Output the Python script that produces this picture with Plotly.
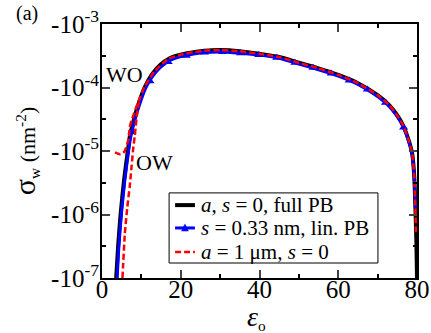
import numpy as np
import plotly.graph_objects as go

# full PB, s = 0 (black)
eps_full = [3.6, 4.1, 4.75, 5.6, 6.6, 7.07, 8.3, 9.6, 10.9, 12.6, 14.7, 17.2, 20.2, 23.6,
            26.1, 30, 35, 40, 45, 50, 55, 60, 65, 70, 73, 75, 76.5, 78, 78.8, 79.3, 79.6,
            79.85, 80]
sig_full = [-1.0e-7, -3.2e-7, -1.05e-6, -3.47e-6, -1.05e-5, -1.7e-5, -3.47e-5, -6.3e-5,
            -1.02e-4, -1.58e-4, -2.24e-4, -2.88e-4, -3.31e-4, -3.63e-4, -3.8e-4, -3.89e-4,
            -3.72e-4, -3.39e-4, -3.02e-4, -2.45e-4, -2.0e-4, -1.58e-4, -1.17e-4, -7.6e-5,
            -5.25e-5, -3.63e-5, -2.5e-5, -1.41e-5, -8.9e-6, -4.0e-6, -1.26e-6, -3.5e-7,
            -1.0e-7]

# s = 0.33 nm, linear PB (blue)
eps_lin = [3.85, 4.3, 4.95, 5.8, 6.8, 7.3, 8.5, 9.8, 11.1, 12.8, 14.9, 17.4, 20.3, 23.6,
           26.1, 30, 35, 40, 45, 50, 55, 60, 65, 70, 73, 75, 76.5, 78, 78.8, 79.3, 79.6]
sig_lin = [-1.0e-7, -3.2e-7, -1.05e-6, -3.47e-6, -1.05e-5, -1.66e-5, -3.31e-5, -6.0e-5,
           -9.8e-5, -1.48e-4, -2.09e-4, -2.69e-4, -3.09e-4, -3.39e-4, -3.55e-4, -3.63e-4,
           -3.47e-4, -3.24e-4, -2.88e-4, -2.34e-4, -1.9e-4, -1.51e-4, -1.12e-4, -7.2e-5,
           -5.0e-5, -3.47e-5, -2.4e-5, -1.35e-5, -8.5e-6, -3.8e-6, -1.26e-6]
eps_lin_mk = [7.6, 12.2, 16.8, 21.4, 26.0, 30.6, 35.2, 39.8, 44.4, 49.0, 53.6, 58.2,
              62.8, 67.4, 72.0, 76.6]
sig_lin_mk = [-2.0e-5, -1.26e-4, -2.51e-4, -3.16e-4, -3.55e-4, -3.63e-4, -3.47e-4,
              -3.24e-4, -2.95e-4, -2.45e-4, -2.04e-4, -1.66e-4, -1.29e-4, -9.3e-5,
              -5.75e-5, -2.34e-5]

# a = 1 um, s = 0 (red), upper branch and lower branch
eps_1um = [3.3, 4.5, 5.3, 5.8, 6.4, 6.8, 7.05, 7.5, 7.9, 9.2, 10.9, 13.4, 16.8, 20.2,
           23.6, 26.1, 30, 35, 40, 45, 50, 55, 60, 65, 70, 73, 75, 76.5, 78, 78.8, 79.3,
           79.6, 79.75]
sig_1um = [-9.5e-6, -8.9e-6, -9.3e-6, -1.0e-5, -1.3e-5, -1.6e-5, -2.4e-5, -3.0e-5,
           -3.55e-5, -5.9e-5, -1.05e-4, -1.82e-4, -2.82e-4, -3.31e-4, -3.63e-4, -3.8e-4,
           -3.89e-4, -3.72e-4, -3.39e-4, -3.02e-4, -2.45e-4, -2.0e-4, -1.58e-4, -1.17e-4,
           -7.6e-5, -5.25e-5, -3.63e-5, -2.5e-5, -1.41e-5, -8.9e-6, -4.0e-6, -1.26e-6,
           -5.0e-7]
eps_1um_lo = [5.2, 5.8, 6.4, 7.05, 7.5, 7.9, 8.3, 8.75, 9.2, 9.6]
sig_1um_lo = [-1.0e-7, -5.0e-7, -1.26e-6, -2.8e-6, -5.6e-6, -1.05e-5, -1.7e-5, -3.16e-5,
              -5.2e-5, -6.8e-5]

series_names = ["<i>a</i>, <i>s</i> = 0, full PB",
                "<i>s</i> = 0.33 nm, lin. PB",
                "<i>a</i> = 1 μm, <i>s</i> = 0"]

y_ticks = [1e-7, 1e-6, 1e-5, 1e-4, 1e-3]
y_ticktext = ["-10<sup>-7</sup>", "-10<sup>-6</sup>", "-10<sup>-5</sup>",
              "-10<sup>-4</sup>", "-10<sup>-3</sup>"]
y_minor = [10**-6.5, 10**-5.5, 10**-4.5, 10**-3.5]

FONT = "Liberation Serif"
BLACK = dict(color="black", width=4)
BLUE = dict(color="#0000ff", width=3)
RED = dict(color="#ff0000", width=2.5, dash="6px,3px")

fig = go.Figure()
fig.add_trace(go.Scatter(x=eps_full, y=np.abs(sig_full), mode="lines",
                         line=dict(**BLACK, shape="spline", smoothing=0.6)))
fig.add_trace(go.Scatter(x=eps_lin, y=np.abs(sig_lin), mode="lines",
                         line=dict(**BLUE, shape="spline", smoothing=0.6)))
fig.add_trace(go.Scatter(x=eps_lin_mk, y=np.abs(sig_lin_mk), mode="markers",
                         marker=dict(color="#0000ff", symbol="triangle-up", size=8)))
fig.add_trace(go.Scatter(x=eps_1um, y=np.abs(sig_1um), mode="lines",
                         line=dict(**RED, shape="spline", smoothing=0.6)))
fig.add_trace(go.Scatter(x=eps_1um_lo, y=np.abs(sig_1um_lo), mode="lines",
                         line=dict(**RED, shape="spline", smoothing=0.6)))

# hand-made legend box (paper coords), matching the boxed xmgrace legend
leg_x0, leg_x1, leg_y0, leg_y1 = 0.213, 0.876, 0.059, 0.335
row_y = [0.287, 0.197, 0.102]
samp_x0, samp_x1, text_x = 0.232, 0.295, 0.308
shapes = [dict(type="rect", xref="paper", yref="paper", x0=leg_x0, x1=leg_x1,
               y0=leg_y0, y1=leg_y1, line=dict(color="black", width=1),
               fillcolor="white", layer="above")]
for ry, ln in zip(row_y, [BLACK, BLUE, RED]):
    shapes.append(dict(type="line", xref="paper", yref="paper", x0=samp_x0, x1=samp_x1,
                       y0=ry, y1=ry, line=ln, layer="above"))

note = dict(xref="paper", yref="paper", xanchor="center", yanchor="middle", showarrow=False)
annotations = [
    dict(text="(a)", x=-0.238, y=1.043, font=dict(size=20), **note),
    dict(text="WO", x=0.07, y=0.803, font=dict(size=22), **note),
    dict(text="OW", x=0.168, y=0.453, font=dict(size=22), **note),
    dict(text="<span style='font-size:30px'>σ</span><sub>w</sub> (nm<sup>-2</sup>)",
         x=-0.244, y=0.50, textangle=-90, font=dict(size=22), **note),
    dict(text="<i><span style='font-size:28px'>ε</span></i><sub>o</sub>",
         x=0.49, y=-0.155, font=dict(size=22), **note),
    dict(text="▲", x=(samp_x0 + samp_x1) / 2, y=row_y[1] + 0.004,
         font=dict(size=10, color="#0000ff", family="DejaVu Sans"), **note),
]
for ry, name in zip(row_y, series_names):
    annotations.append(dict(text=name, x=text_x, y=ry, xref="paper", yref="paper",
                            xanchor="left", yanchor="middle", showarrow=False,
                            font=dict(size=21)))

fig.update_layout(
    width=431, height=333, margin=dict(l=102, r=14, t=24, b=55, autoexpand=False),
    plot_bgcolor="white", paper_bgcolor="white",
    font=dict(family=FONT, size=25, color="black"),
    showlegend=False, shapes=shapes, annotations=annotations,
)
fig.update_xaxes(range=[0, 80], tickvals=[0, 20, 40, 60, 80], ticks="inside", ticklen=8,
                 tickwidth=1.5, showline=True, linewidth=2, linecolor="black",
                 mirror="allticks", showgrid=False, zeroline=False, automargin=False,
                 ticklabelstandoff=-12,
                 minor=dict(tickvals=[10, 30, 50, 70], ticks="inside", ticklen=4,
                            tickwidth=1.5, tickcolor="black"))
fig.update_yaxes(type="log", range=[-7, -3], tickvals=y_ticks, ticktext=y_ticktext,
                 ticks="inside", ticklen=8, tickwidth=1.5, showline=True, linewidth=2,
                 linecolor="black", mirror="allticks", showgrid=False, zeroline=False,
                 automargin=False, ticklabelstandoff=-4,
                 minor=dict(tickvals=y_minor, ticks="inside", ticklen=4, tickwidth=1.5,
                            tickcolor="black"))

# page body has a default margin; drop it so the figure sits at the window corner
fig.write_html("out.html", config={"displayModeBar": False},
               post_script="document.body.style.margin='0';")
